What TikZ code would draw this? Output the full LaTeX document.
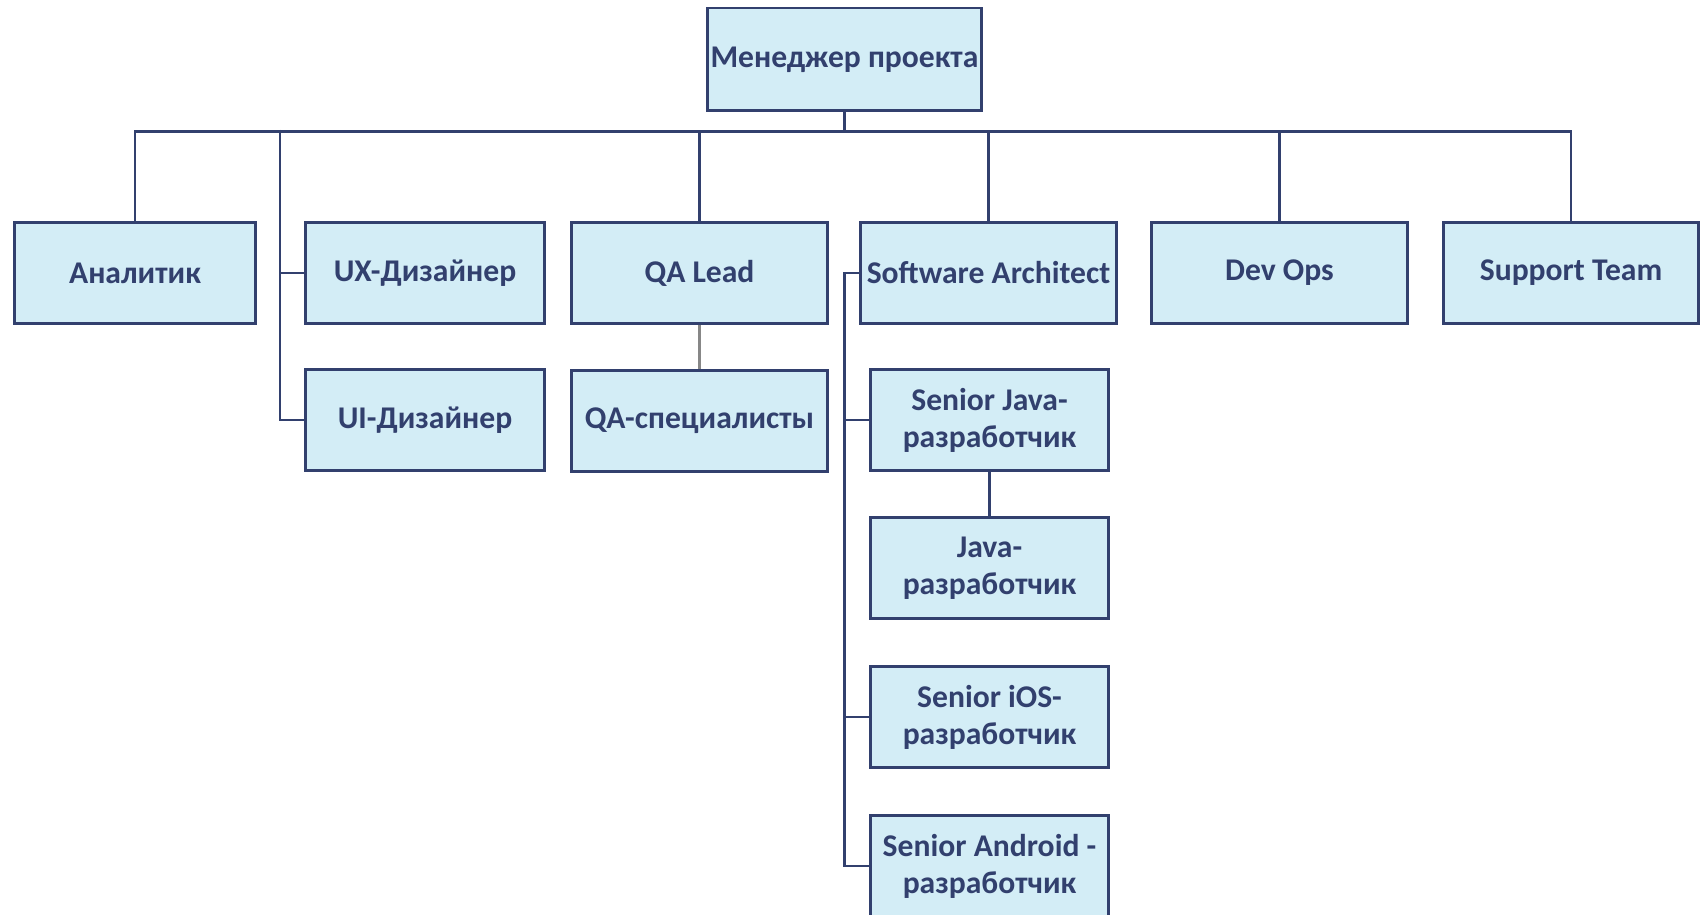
\documentclass[tikz,border=0pt]{standalone}
\usepackage{fontspec}
\setmainfont{Carlito}
\usetikzlibrary{positioning}
\definecolor{boxfill}{RGB}{211,237,246}
\definecolor{boxline}{RGB}{50,64,110}
\definecolor{softline}{RGB}{135,135,135}

\begin{document}
\begin{tikzpicture}[
  x=0.02cm, y=-0.02cm,
  role/.style={draw=boxline, fill=boxfill, rectangle, line width=1.7pt,
    minimum width=4.8cm, minimum height=2.04cm, inner sep=2pt,
    align=center, text=boxline, font=\fontsize{18}{21}\selectfont\bfseries},
  wide/.style={role, minimum width=5.14cm},
  link/.style={draw=boxline, line width=1.4pt},
]
\useasboundingbox (0,0) rectangle (1701,915);

\node (pm) [role, minimum width=5.5cm, minimum height=2.06cm] at (844.5,59.5) {Менеджер проекта};

\node (analyst) [role, minimum width=4.84cm] at (135,273) {Аналитик};
\node (uxd) [role] at (425,273) {UX-Дизайнер};
\node (uid) [role] at (425,420) {UI-Дизайнер};
\node (qalead) [wide] at (699.5,273) {QA Lead};
\node (qaspec) [wide] at (699.5,421) {QA-специалисты};
\node (arch) [wide] at (988.5,273) {Software Architect};
\node (devops) [wide] at (1279.5,273) {Dev Ops};
\node (support) [wide, minimum width=5.12cm] at (1571,273) {Support Team};

\node (sjava) [role, minimum width=4.78cm] at (989.5,420) {Senior Java-\\разработчик};
\node (java) [role, minimum width=4.78cm] at (989.5,568) {Java-\\разработчик};
\node (sios) [role, minimum width=4.78cm] at (989.5,717) {Senior iOS-\\разработчик};
\node (sandroid) [role, minimum width=4.78cm] at (989.5,866) {Senior Android -\\разработчик};

% bus under the manager
\coordinate (bus) at ([yshift=-0.38cm]pm.south);
\coordinate (dtrunk) at (280,130);
\coordinate (strunk) at (pm.south |- arch.west);

\draw[link] (pm.south) -- (bus);
\foreach \n in {analyst,qalead,arch,devops,support}
  \draw[link] (bus) -| (\n.north);

\draw[link] (dtrunk) |- (uxd.west);
\draw[link] (dtrunk) |- (uid.west);

\draw[draw=softline, line width=1.4pt] (qalead) -- (qaspec);

\draw[link] (arch.west) -- (strunk) |- (sandroid.west);
\foreach \n in {sjava,sios}
  \draw[link] (strunk) |- (\n.west);
\draw[link] (sjava) -- (java);
\end{tikzpicture}
\end{document}
